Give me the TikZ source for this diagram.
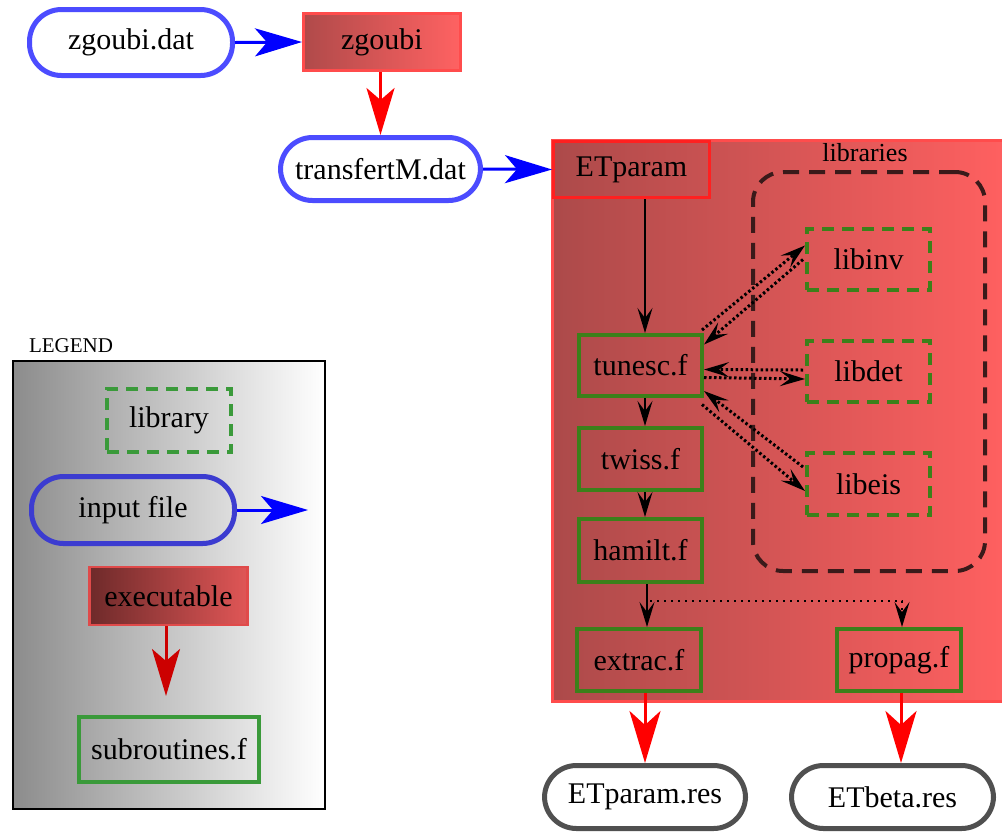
\documentclass[tikz,border=0pt]{standalone}
\usepackage{fontspec}
\setmainfont{Liberation Serif}
\usetikzlibrary{arrows.meta}
\definecolor{pillblue}{HTML}{4C4CFF}
\definecolor{legblue}{HTML}{3C3CD0}
\definecolor{arrblue}{HTML}{0000FF}
\definecolor{exeL}{HTML}{B04A4A}
\definecolor{exeR}{HTML}{FF6262}
\definecolor{exeborder}{HTML}{FF4C4C}
\definecolor{cluL}{HTML}{AC4A4A}
\definecolor{cluR}{HTML}{FF6060}
\definecolor{etborder}{HTML}{FF2020}
\definecolor{subgreen}{HTML}{3C801A}
\definecolor{leggreen}{HTML}{3A9A3A}
\definecolor{libregion}{HTML}{3A1A1A}
\definecolor{legexeL}{HTML}{6E2A2A}
\definecolor{legexeR}{HTML}{E05656}
\definecolor{legexeB}{HTML}{E04A4A}
\definecolor{legL}{HTML}{8C8C8C}
\definecolor{resgray}{HTML}{505050}
\definecolor{legred}{HTML}{CC0000}
\tikzset{
  pill/.style={rectangle, rounded corners=32pt, line width=5pt, inner sep=0pt},
  exebox/.style={rectangle, inner sep=0pt, line width=3pt, draw=exeborder, left color=exeL, right color=exeR},
  subbox/.style={rectangle, inner sep=0pt, line width=4pt, draw=subgreen},
  libbox/.style={rectangle, inner sep=0pt, line width=4pt, draw=subgreen, dash pattern=on 12pt off 8pt},
  bigtip/.style={-{Stealth[length=47pt,width=28pt,inset=12pt]}},
  hugetip/.style={-{Stealth[length=52pt,width=31pt,inset=14pt]}},
  smalltip/.style={-{Stealth[length=25pt,width=15pt,inset=10pt]}},
  redarrow/.style={draw=red, line width=3pt, bigtip},
  bluearrow/.style={draw=arrblue, line width=3pt, bigtip},
  blackarrow/.style={draw=black, line width=1.5pt, smalltip},
  dotarrow/.style={draw=black, line width=3pt, dash pattern=on 2.5pt off 2.5pt, smalltip},
}
\begin{document}
\begin{tikzpicture}[x=1pt,y=-1pt,font=\fontsize{30}{36}\selectfont]
\useasboundingbox (0,0) rectangle (1002,831);

% cluster
\node[rectangle, inner sep=0pt, line width=3pt, draw=exeborder, left color=cluL, right color=cluR,
      minimum width=453pt, minimum height=561pt] (cluster) at (779,421) {};
\node[font=\fontsize{26}{30}\selectfont] (libtitle) at (865,153) {libraries};
\node[rectangle, inner sep=0pt, line width=4pt, draw=libregion, rounded corners=30pt,
      dash pattern=on 16pt off 10pt, minimum width=232pt, minimum height=399pt] (libregion) at (869,371.5) {};

% top chain
\node[pill, draw=pillblue, fill=white, minimum width=203pt, minimum height=66pt] (zdat) at (131,42.5) {zgoubi.dat};
\node[exebox, minimum width=157pt, minimum height=57pt] (zgoubi) at (382,42) {zgoubi};
\node[pill, draw=pillblue, fill=white, minimum width=200pt, minimum height=63pt] (tdat) at (380.5,169) {transfertM.dat};
\node[rectangle, inner sep=0pt, line width=3pt, draw=etborder, minimum width=156pt, minimum height=56pt] (etparam) at (631.5,169.5) {ETparam};

\draw[bluearrow] (zdat.east) -- (zgoubi.west);
\draw[redarrow] (zgoubi.south -| tdat.north) -- (tdat.north);
\draw[bluearrow] (tdat.east) -- (etparam.west);

% subroutines
\node[subbox, minimum width=123pt, minimum height=61pt] (tunesc) at (640.5,365.5) {tunesc.f};
\node[subbox, minimum width=123pt, minimum height=62pt] (twiss) at (640.5,459) {twiss.f};
\node[subbox, minimum width=123pt, minimum height=63pt] (hamilt) at (640.5,550.5) {hamilt.f};
\node[subbox, minimum width=124pt, minimum height=62pt] (extrac) at (639,660) {extrac.f};
\node[subbox, minimum width=124pt, minimum height=62pt] (propag) at (899,660) {propag.f};

% libraries
\node[libbox, minimum width=123pt, minimum height=61pt] (libinv) at (868.5,259.5) {libinv};
\node[libbox, minimum width=123pt, minimum height=61pt] (libdet) at (868.5,371.5) {libdet};
\node[libbox, minimum width=123pt, minimum height=62pt] (libeis) at (868.5,484) {libeis};

% outputs
\node[pill, draw=resgray, fill=white, minimum width=201pt, minimum height=63pt] (etres) at (645,797) {ETparam.res};
\node[pill, draw=resgray, fill=white, minimum width=202pt, minimum height=63pt] (etbeta) at (892.5,797) {ETbeta.res};

% black arrows
\draw[blackarrow] (etparam.south -| 645,0) -- (tunesc.north -| 645,0);
\draw[blackarrow] (tunesc.south -| 645,0) -- (twiss.north -| 645,0);
\draw[blackarrow] (twiss.south -| 645,0) -- (hamilt.north -| 645,0);
\draw[blackarrow] (hamilt.south -| 647,0) -- (extrac.north -| 647,0);
\draw[draw=black, line width=1.5pt, dash pattern=on 2pt off 5pt, smalltip]
  (hamilt.south -| 650,0) ++(0,17) -| (propag.north -| 902,0);

% dotted double arrows
\draw[dotarrow] ([xshift=-2pt,yshift=3pt]tunesc.north east) -- ([yshift=14pt]libinv.west);
\draw[dotarrow] ([xshift=-2pt]libinv.west) -- ([yshift=-11.5pt]tunesc.north east);
\draw[dotarrow] ([xshift=-2pt,yshift=1.5pt]libdet.west) -- ([yshift=-4pt]tunesc.east);
\draw[dotarrow] ([yshift=-12pt]tunesc.east) -- ([yshift=-7.5pt]libdet.west);
\draw[dotarrow] ([xshift=-2pt,yshift=17pt]libeis.west) -- ([yshift=7pt]tunesc.south east);
\draw[dotarrow] ([xshift=-2pt,yshift=-6.5pt]tunesc.south east) -- ([yshift=-7pt]libeis.west);

% red output arrows
\draw[draw=red, line width=3pt, hugetip] (extrac.south -| 645,0) -- (etres.north -| 645,0);
\draw[draw=red, line width=3pt, hugetip] (propag.south -| 901,0) -- (etbeta.north -| 901,0);

% legend
\node[font=\fontsize{21}{25}\selectfont] (legtitle) at (71,346) {LEGEND};
\node[rectangle, inner sep=0pt, line width=2pt, draw=black, left color=legL, right color=white,
      minimum width=312pt, minimum height=448pt] (legend) at (169,585) {};
\node[rectangle, inner sep=0pt, line width=4pt, draw=leggreen, dash pattern=on 12pt off 8pt,
      minimum width=124pt, minimum height=63pt] (leglib) at (169,420.5) {library};
\node[pill, draw=legblue, minimum width=203pt, minimum height=67pt] (leginput) at (133,510) {input file};
\coordinate (legarrowend) at (308,510);
\draw[bluearrow] (leginput.east) -- (legarrowend);
\node[rectangle, inner sep=0pt, line width=2.5pt, draw=legexeB, left color=legexeL, right color=legexeR,
      minimum width=158pt, minimum height=58pt] (legexe) at (168.5,596) {executable};
\coordinate (legredend) at (166,696);
\draw[draw=legred, line width=3pt, bigtip] (legexe.south -| legredend) -- (legredend);
\node[rectangle, inner sep=0pt, line width=4pt, draw=leggreen, minimum width=180pt, minimum height=65pt] (legsub) at (169,749.5) {subroutines.f};
\end{tikzpicture}
\end{document}
